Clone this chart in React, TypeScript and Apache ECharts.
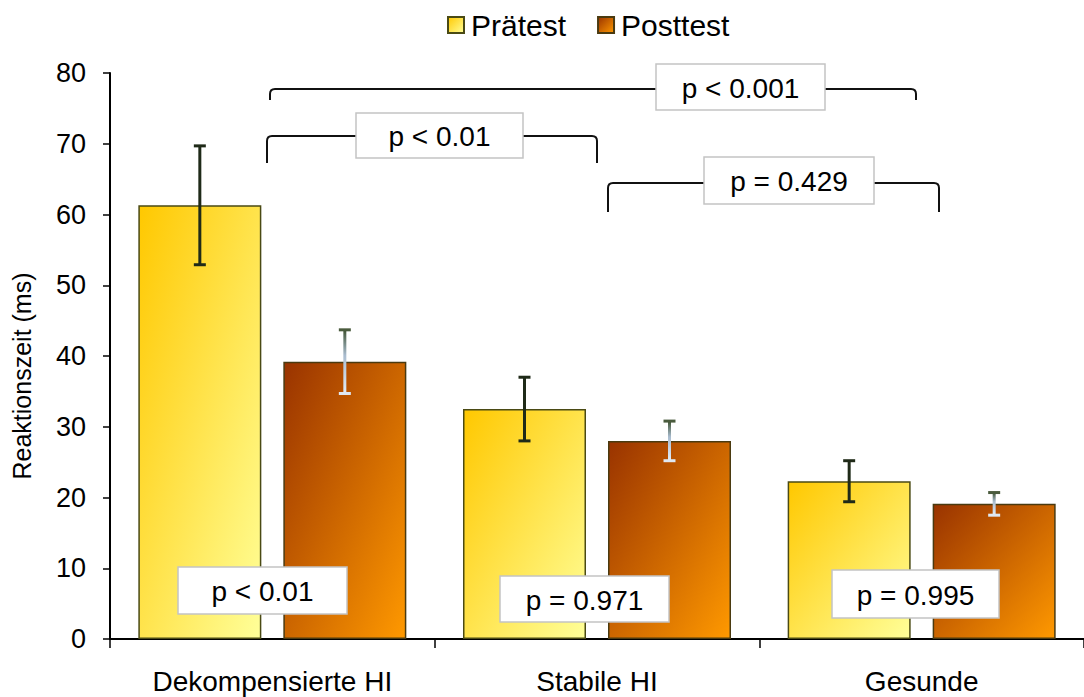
import React, { useEffect, useRef } from "react";
import * as echarts from "echarts";

const categories = ["Dekompensierte HI", "Stabile HI", "Gesunde"];
const seriesNames = ["Prätest", "Posttest"];
const pretest = [61.3, 32.5, 22.3];
const posttest = [39.2, 28.0, 19.1];
const pretestSD = [8.4, 4.5, 2.9];
const posttestSD = [4.5, 2.8, 1.6];
const yMin = 0;
const yMax = 80;
const yInterval = 10;
const yAxisTitle = "Reaktionszeit (ms)";
const betweenLabels = ["p < 0.001", "p < 0.01", "p = 0.429"];
const withinLabels = ["p < 0.01", "p = 0.971", "p = 0.995"];

const FONT = "'Liberation Sans', Arial, sans-serif";
const BAR_W = 123;
const BAR_GAP = 22;
const OFFSET = (BAR_W + BAR_GAP) / 2;

// annotation layout (pixels)
const brackets = [
  { xl: 270, xr: 916, yh: 89, yl: 100, yr: 100 },
  { xl: 267, xr: 597, yh: 136, yl: 163, yr: 163 },
  { xl: 608, xr: 939, yh: 183, yl: 212, yr: 212 },
];
const betweenBoxes = [
  { x: 656, y: 64, w: 169, h: 46 },
  { x: 356, y: 113, w: 167, h: 45 },
  { x: 704, y: 157, w: 170, h: 47 },
];
const withinBoxes = [
  { x: 178, y: 567, w: 169, h: 47 },
  { x: 500, y: 576, w: 169, h: 46 },
  { x: 832, y: 570, w: 167, h: 48 },
];

function bracketElements(b: any) {
  const r = 5;
  const ls = { stroke: "#111", lineWidth: 2, fill: "none" };
  return [
    { type: "line", z: 100, shape: { x1: b.xl, y1: b.yl, x2: b.xl, y2: b.yh + r }, style: ls },
    { type: "bezierCurve", z: 100, shape: { x1: b.xl, y1: b.yh + r, x2: b.xl + r, y2: b.yh, cpx1: b.xl, cpy1: b.yh }, style: ls },
    { type: "line", z: 100, shape: { x1: b.xl + r, y1: b.yh, x2: b.xr - r, y2: b.yh }, style: ls },
    { type: "bezierCurve", z: 100, shape: { x1: b.xr - r, y1: b.yh, x2: b.xr, y2: b.yh + r, cpx1: b.xr, cpy1: b.yh }, style: ls },
    { type: "line", z: 100, shape: { x1: b.xr, y1: b.yh + r, x2: b.xr, y2: b.yr }, style: ls },
  ];
}

function boxElements(bx: any, label: string) {
  return [
    {
      type: "rect",
      z: 101,
      shape: { x: bx.x, y: bx.y, width: bx.w, height: bx.h },
      style: { fill: "#ffffff", stroke: "#c4c4c4", lineWidth: 1.5 },
    },
    {
      type: "text",
      z: 102,
      style: {
        text: label,
        x: bx.x + bx.w / 2,
        y: bx.y + bx.h / 2 + 1,
        textAlign: "center",
        textVerticalAlign: "middle",
        fontSize: 28,
        fontFamily: FONT,
        fill: "#000",
      },
    },
  ];
}

function errorRender(offset: number, post: boolean) {
  return (params: any, api: any) => {
    const ci = api.value(0);
    const v = api.value(1);
    const sd = api.value(2);
    const top = api.coord([ci, v + sd]);
    const bot = api.coord([ci, v - sd]);
    const x = top[0] + offset;
    const cap = 6;
    const lineStroke = post
      ? new echarts.graphic.LinearGradient(
          0,
          top[1],
          0,
          bot[1],
          [
            { offset: 0, color: "#3f5232" },
            { offset: 0.4, color: "#a9bccf" },
            { offset: 1, color: "#e4edf8" },
          ],
          true
        )
      : "#1f2a18";
    const topCol = post ? "#4a5b3d" : "#1f2a18";
    const botCol = post ? "#dfe8f3" : "#1f2a18";
    return {
      type: "group",
      children: [
        { type: "line", shape: { x1: x, y1: top[1], x2: x, y2: bot[1] }, style: { stroke: lineStroke, lineWidth: 3 } },
        { type: "line", shape: { x1: x - cap, y1: top[1], x2: x + cap, y2: top[1] }, style: { stroke: topCol, lineWidth: 3 } },
        { type: "line", shape: { x1: x - cap, y1: bot[1], x2: x + cap, y2: bot[1] }, style: { stroke: botCol, lineWidth: 3 } },
      ],
    };
  };
}

export default function App() {
  const ref = useRef<HTMLDivElement>(null);
  useEffect(() => {
    document.body.style.margin = "0";
    if (!ref.current) return;
    const chart = echarts.init(ref.current, null, { renderer: "svg" });
    const preColor = new echarts.graphic.LinearGradient(0, 0, 1, 1, [
      { offset: 0, color: "#ffc800" },
      { offset: 1, color: "#ffff99" },
    ]);
    const postColor = new echarts.graphic.LinearGradient(0, 0, 1, 1, [
      { offset: 0, color: "#993300" },
      { offset: 1, color: "#ff9900" },
    ]);
    const graphics: any[] = [];
    brackets.forEach((b) => graphics.push(...bracketElements(b)));
    betweenBoxes.forEach((bx, i) => graphics.push(...boxElements(bx, betweenLabels[i])));
    withinBoxes.forEach((bx, i) => graphics.push(...boxElements(bx, withinLabels[i])));
    graphics.push({
      type: "text",
      z: 100,
      x: 22,
      y: 376,
      rotation: Math.PI / 2,
      style: {
        text: yAxisTitle,
        x: 0,
        y: 0,
        textAlign: "center",
        textVerticalAlign: "middle",
        fontSize: 25,
        fontFamily: FONT,
        fill: "#000",
      },
    });

    chart.setOption({
      animation: false,
      backgroundColor: "#ffffff",
      textStyle: { fontFamily: FONT },
      legend: {
        data: seriesNames,
        left: 447,
        top: 10,
        padding: 0,
        itemWidth: 16,
        itemHeight: 16,
        itemGap: 31,
        icon: "rect",
        textStyle: { fontSize: 30, color: "#000", fontFamily: FONT, padding: [0, 0, 0, 2] },
      },
      grid: { left: 110, right: -3, top: 73, bottom: 58, containLabel: false },
      xAxis: {
        type: "category",
        data: categories,
        axisLine: { lineStyle: { color: "#000", width: 2 } },
        axisTick: { show: true, length: 9, lineStyle: { color: "#000", width: 1.5 } },
        axisLabel: { fontSize: 28, color: "#000", margin: 28, fontFamily: FONT },
      },
      yAxis: {
        type: "value",
        min: yMin,
        max: yMax,
        interval: yInterval,
        splitLine: { show: false },
        axisLine: { show: true, lineStyle: { color: "#000", width: 2 } },
        axisTick: { show: true, length: 7, lineStyle: { color: "#000", width: 1.5 } },
        axisLabel: { fontSize: 27, color: "#000", margin: 24, fontFamily: FONT },
      },
      series: [
        {
          name: seriesNames[0],
          type: "bar",
          data: pretest,
          barWidth: BAR_W,
          barGap: (BAR_GAP / BAR_W) * 100 + "%",
          itemStyle: { color: preColor, borderColor: "#4a4a14", borderWidth: 1.5 },
        },
        {
          name: seriesNames[1],
          type: "bar",
          data: posttest,
          barWidth: BAR_W,
          itemStyle: { color: postColor, borderColor: "#4a3a10", borderWidth: 1.5 },
        },
        {
          type: "custom",
          name: "errPre",
          z: 5,
          renderItem: errorRender(-OFFSET, false),
          data: categories.map((_, i) => [i, pretest[i], pretestSD[i]]),
          encode: { x: 0, y: 1 },
        },
        {
          type: "custom",
          name: "errPost",
          z: 5,
          renderItem: errorRender(OFFSET, true),
          data: categories.map((_, i) => [i, posttest[i], posttestSD[i]]),
          encode: { x: 0, y: 1 },
        },
      ],
      graphic: { elements: graphics },
    });
    return () => chart.dispose();
  }, []);
  return <div ref={ref} style={{ width: 1084, height: 697 }} />;
}
